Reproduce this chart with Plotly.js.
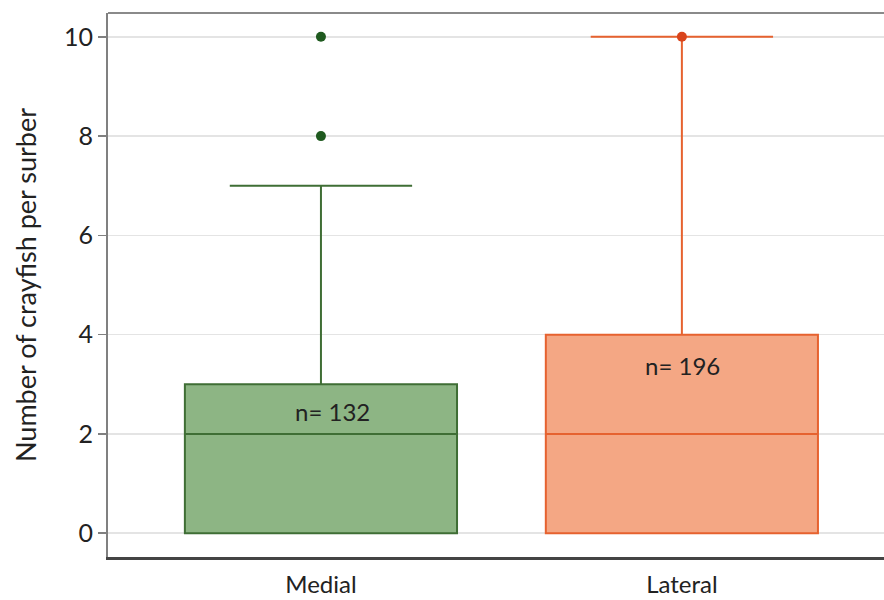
<!DOCTYPE html>
<html>
<head>
<meta charset="utf-8">
<script src="https://cdn.plot.ly/plotly-3.0.1.min.js"></script>
<style>html,body{margin:0;padding:0;background:#fff;}#chart{width:884px;height:600px;}</style>
</head>
<body>
<div id="chart"></div>
<script>
var categories = ['Medial', 'Lateral'];
var q1 = [0, 0];
var medians = [2, 2];
var q3 = [3, 4];
var lowerFences = [0, 0];
var upperFences = [7, 10];
var medialOutliers = [8, 10];
var lateralOutliers = [10];
var sampleSizes = [132, 196];
var labelY = [2.45, 3.38];
var yTicks = [0, 2, 4, 6, 8, 10];

var fills = ['#8db584', '#f4a784'];
var lines = ['#3f6e35', '#e6622f'];
var dots = ['#1f5a1f', '#d9441c'];

var traces = [];
for (var i = 0; i < categories.length; i++) {
  traces.push({
    type: 'box',
    x: [categories[i]],
    q1: [q1[i]], median: [medians[i]], q3: [q3[i]],
    lowerfence: [lowerFences[i]], upperfence: [upperFences[i]],
    boxpoints: false,
    width: 0.754,
    whiskerwidth: 0.67,
    fillcolor: fills[i],
    line: {color: lines[i], width: 2},
    hoverinfo: 'skip',
    showlegend: false
  });
}
traces.push({
  type: 'scatter', mode: 'markers',
  x: medialOutliers.map(function(){return categories[0];}),
  y: medialOutliers,
  marker: {color: dots[0], size: 10},
  showlegend: false, hoverinfo: 'skip'
});
traces.push({
  type: 'scatter', mode: 'markers',
  x: lateralOutliers.map(function(){return categories[1];}),
  y: lateralOutliers,
  marker: {color: dots[1], size: 10},
  showlegend: false, hoverinfo: 'skip'
});

var annotations = categories.map(function(c, i) {
  return {
    x: i + (i === 0 ? 0.033 : 0.003), y: labelY[i], xref: 'x', yref: 'y',
    text: 'n= ' + sampleSizes[i], showarrow: false,
    font: {family: 'Lato, sans-serif', size: 24, color: '#222'}
  };
});

var layout = {
  width: 884, height: 600,
  margin: {l: 108, r: 0, t: 13, b: 43},
  paper_bgcolor: '#fff', plot_bgcolor: '#fff',
  boxmode: 'overlay',
  font: {family: 'Lato, sans-serif', color: '#222'},
  xaxis: {
    type: 'category',
    range: [-0.59, 1.56],
    showgrid: false, zeroline: false,
    showline: true, linecolor: '#444', linewidth: 3,
    ticks: '', tickfont: {size: 24, color: '#222'},
    ticklabelstandoff: 4
  },
  yaxis: {
    range: [-0.48, 10.48],
    tickvals: yTicks,
    showgrid: true, gridcolor: '#e4e4e4', gridwidth: 1.5,
    zeroline: false,
    showline: true, linecolor: '#808080', linewidth: 2,
    ticks: 'outside', ticklen: 8, tickcolor: '#808080', tickwidth: 1.5,
    tickfont: {size: 25, color: '#222'},
    title: {text: 'Number of crayfish per surber', font: {size: 27, color: '#222'}, standoff: 20}
  },
  shapes: [{
    type: 'line', xref: 'paper', yref: 'paper', x0: 0, x1: 1, y0: 1, y1: 1,
    line: {color: '#8a8a8a', width: 2}
  }],
  annotations: annotations
};

Plotly.newPlot('chart', traces, layout, {displayModeBar: false, staticPlot: true});
</script>
</body>
</html>
